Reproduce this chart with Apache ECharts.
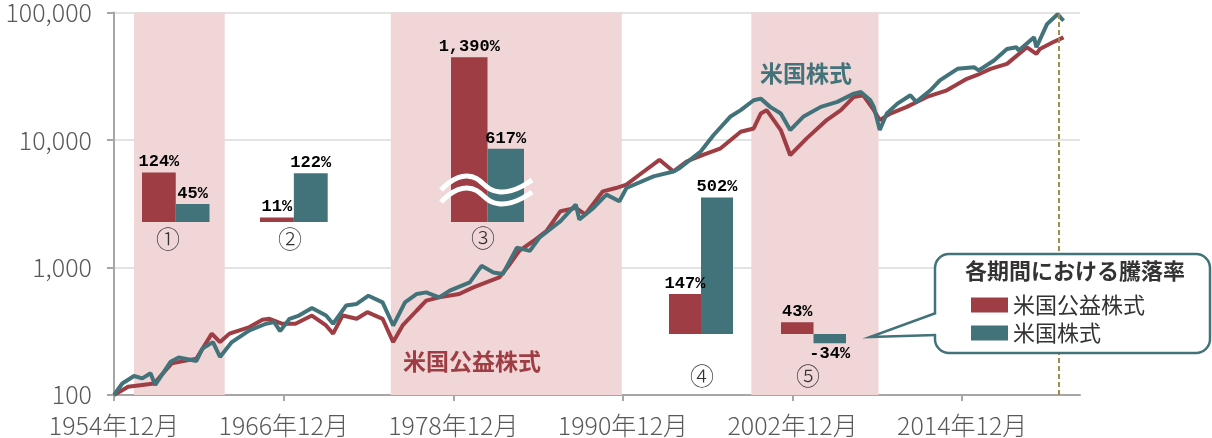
<!DOCTYPE html>
<html>
<head>
<meta charset="UTF-8">
<script src="https://cdn.jsdelivr.net/npm/echarts@6/dist/echarts.min.js"></script>
<style>
  html, body { margin: 0; padding: 0; background: #fff; }
  #main { width: 1212px; height: 438px; }
</style>
</head>
<body>
<div id="main"></div>
<script>
// 米国公益株式 (月末, 1954年12月=100)
var utilDates = ['1954-12','1955-12','1956-12','1957-10','1959-01','1960-10','1961-11','1962-06','1963-02','1964-07','1965-06','1965-12','1966-11','1967-10','1968-12','1969-12','1970-06','1971-02','1972-02','1972-11','1973-12','1974-09','1975-05','1976-05','1977-01','1977-12','1979-05','1980-05','1982-03','1982-12','1983-08','1984-08','1985-07','1986-07','1987-08','1988-04','1989-07','1990-06','1991-03','1992-02','1993-07','1994-07','1995-06','1996-08','1997-11','1999-04','2000-03','2000-09','2001-02','2001-08','2002-02','2002-10','2003-12','2005-05','2006-05','2007-04','2007-12','2008-09','2009-02','2009-11','2011-01','2012-06','2013-11','2015-04','2016-03','2016-12','2018-02','2019-07','2020-03','2020-06','2021-05','2022-02'];
var utilValues = [100,116,120,123,177,193,303,260,303,341,389,396,362,362,420,351,303,420,396,446,396,260,351,460,550,583,620,698,835,1062,1349,1614,1931,2764,2933,2606,3957,4200,4463,5340,6990,5666,6780,7645,8610,11610,12320,16130,17140,14330,11970,7600,10300,14330,17140,21760,22440,17140,14330,16130,18190,21760,24540,30220,33060,36160,39570,53370,47330,51780,58380,63870];

// 米国株式
var stockDates = ['1954-12','1955-07','1956-05','1956-12','1957-07','1957-11','1958-12','1959-07','1960-10','1961-03','1961-12','1962-06','1963-04','1964-07','1965-09','1966-04','1966-09','1967-05','1968-01','1968-12','1969-12','1970-06','1971-05','1972-02','1972-12','1973-12','1974-09','1975-07','1976-05','1977-01','1977-12','1978-09','1980-02','1980-12','1981-10','1982-06','1983-06','1984-05','1985-01','1986-07','1987-08','1987-11','1988-11','1989-10','1990-09','1991-03','1993-02','1994-07','1994-12','1996-06','1997-05','1998-07','1999-04','2000-03','2000-09','2001-05','2002-02','2002-10','2003-09','2004-12','2006-02','2007-04','2007-10','2008-06','2008-09','2009-02','2009-08','2010-05','2011-04','2011-09','2012-09','2013-05','2014-08','2015-10','2016-02','2017-03','2018-02','2018-10','2018-12','2020-01','2020-03','2020-12','2021-09','2022-02'];
var stockValues = [100,123,141,135,148,120,182,197,185,231,260,199,260,321,362,373,317,396,420,482,420,362,503,518,601,533,351,533,620,638,583,658,764,1031,914,888,1431,1349,1712,2310,3117,2382,2933,3729,3307,4200,5180,5666,6012,8111,10950,15200,17140,20510,21110,18190,16130,11970,15200,18190,19900,23090,23800,20510,18190,11970,16130,19300,22440,19900,24540,29370,36160,37280,35140,42040,51780,53370,50300,63870,53370,81090,97000,86170];

// 各期間の騰落率 (%)
var periodNames = ['①','②','③','④','⑤'];
var periodUtil = [124, 11, 1390, 147, 43];
var periodStock = [45, 122, 617, 502, -34];

// 網掛け期間と点線
var shadeRanges = [['1956-05','1962-10'], ['1974-07','1990-11'], ['2000-01','2009-01']];
var markDate = '2021-10';
var seriesNames = ['米国公益株式', '米国株式'];

var RED = '#9e3d44', TEAL = '#43737a', PINK = '#f0d6d7';
var FONT = "'Noto Sans CJK JP', 'Noto Sans', sans-serif";

function mi(s) {
  var p = s.split('-');
  return (+p[0] - 1954) * 12 + (+p[1] - 12);
}
function pairs(dates, vals) {
  return dates.map(function (d, i) { return [mi(d), vals[i]]; });
}

// inset bar frames: [left, top, width, height, min, max]
var insets = [
  [142, 162, 67.5, 60, 0, 150],
  [260, 162, 67.7, 60, 0, 150],
  [451, 56, 73, 166, 0, 1400],
  [669, 171, 64, 163, 0, 600],
  [781, 306.8, 65, 54.4, -100, 100]
];
var numPos = [[168, 239], [290, 239], [483, 238], [702, 376], [808, 376]];

var grids = [{ left: 114, right: 132, top: 10, bottom: 43 }];
var xAxes = [{
  type: 'value', min: 0, max: 820, interval: 144,
  axisLine: { onZero: false, lineStyle: { color: '#a6a6a6', width: 2 } },
  axisTick: { length: 6, lineStyle: { color: '#a6a6a6', width: 2 } },
  splitLine: { show: false },
  axisLabel: {
    formatter: function (v) { return (1954 + v / 12) + '年12月'; },
    fontSize: 25, fontWeight: 300, color: '#595959', margin: 18, fontFamily: FONT
  }
}];
var yAxes = [{
  type: 'log', logBase: 10, min: 100, max: 100000,
  axisLine: { show: true, lineStyle: { color: '#a6a6a6', width: 2 } },
  axisTick: { show: true, length: 7, lineStyle: { color: '#a6a6a6', width: 2 } },
  splitLine: { lineStyle: { color: '#e3e3e3', width: 2 } },
  axisLabel: {
    formatter: function (v) { return v.toLocaleString('en-US'); },
    fontSize: 25, fontWeight: 300, color: '#595959', margin: 22, fontFamily: FONT
  }
}];

var series = [
  {
    name: 'shade', type: 'line', data: pairs(utilDates, utilValues), z: 1,
    showSymbol: false, silent: true, lineStyle: { opacity: 0 },
    markArea: {
      silent: true, itemStyle: { color: PINK },
      data: shadeRanges.map(function (r) { return [{ xAxis: mi(r[0]) }, { xAxis: mi(r[1]) }]; })
    }
  },
  {
    name: seriesNames[0], type: 'line', data: pairs(utilDates, utilValues), z: 3,
    showSymbol: false, lineStyle: { width: 4, color: RED }, itemStyle: { color: RED }
  },
  {
    name: seriesNames[1], type: 'line', data: pairs(stockDates, stockValues), z: 4,
    showSymbol: false, lineStyle: { width: 4, color: TEAL }, itemStyle: { color: TEAL }
  },
  {
    name: 'mark', type: 'line', data: pairs(utilDates, utilValues), z: 5,
    showSymbol: false, silent: true, lineStyle: { opacity: 0 },
    markLine: {
      silent: true, symbol: 'none', label: { show: false },
      lineStyle: { color: '#a08c50', type: [5, 3], width: 2 },
      data: [{ xAxis: mi(markDate) }]
    }
  }
];

var graphics = [];
insets.forEach(function (b, i) {
  grids.push({ left: b[0], top: b[1], width: b[2], height: b[3] });
  xAxes.push({ type: 'category', gridIndex: i + 1, data: seriesNames, show: false });
  yAxes.push({ type: 'value', gridIndex: i + 1, min: b[4], max: b[5], show: false, splitLine: { show: false } });
  series.push({
    type: 'bar', xAxisIndex: i + 1, yAxisIndex: i + 1, barCategoryGap: '0%', z: 6,
    data: [
      { value: periodUtil[i], itemStyle: { color: RED } },
      { value: periodStock[i], itemStyle: { color: TEAL },
        label: periodStock[i] < 0 ? { position: 'bottom' } : undefined }
    ],
    label: {
      show: true, position: 'top', distance: 2,
      formatter: function (p) { return p.value.toLocaleString('en-US') + '%'; },
      fontFamily: "'Liberation Mono', monospace", fontWeight: 'bold', fontSize: 17, color: '#000'
    }
  });
  graphics.push({
    type: 'text', x: numPos[i][0], y: numPos[i][1], z: 100,
    style: { text: periodNames[i], fontSize: 24, fontWeight: 300, fontFamily: FONT, fill: '#333', align: 'center', verticalAlign: 'middle' }
  });
});

// 波線 (③ の省略記号)
[0, 12].forEach(function (dy) {
  graphics.push({
    type: 'polyline', z: 100,
    shape: { points: [[441, 190 + dy], [467, 176 + dy], [500, 192 + dy], [532, 180 + dy]], smooth: 0.5 },
    style: { stroke: '#fff', lineWidth: 5, fill: null }
  });
});

graphics.push(
  { type: 'text', x: 806, y: 73, z: 100,
    style: { text: '米国株式', fontSize: 23, fontWeight: 'bold', fontFamily: FONT, fill: TEAL, align: 'center', verticalAlign: 'middle' } },
  { type: 'text', x: 472, y: 361, z: 100,
    style: { text: '米国公益株式', fontSize: 23, fontWeight: 'bold', fontFamily: FONT, fill: RED, align: 'center', verticalAlign: 'middle' } },
  { type: 'rect', z: 100, shape: { x: 935, y: 254, width: 275, height: 99, r: 14 },
    style: { fill: '#fff', stroke: TEAL, lineWidth: 2.5 } },
  { type: 'rect', z: 101, shape: { x: 932, y: 314, width: 8, height: 20 }, style: { fill: '#fff' } },
  { type: 'polyline', z: 101, shape: { points: [[936, 313], [870, 337], [936, 335]] },
    style: { stroke: TEAL, lineWidth: 2.5, fill: null } },
  { type: 'text', x: 1075, y: 271, z: 101,
    style: { text: '各期間における騰落率', fontSize: 22, fontWeight: 'bold', fontFamily: FONT, fill: '#333', align: 'center', verticalAlign: 'middle' } }
);

var chart = echarts.init(document.getElementById('main'));
chart.setOption({
  animation: false,
  backgroundColor: '#fff',
  grid: grids,
  xAxis: xAxes,
  yAxis: yAxes,
  legend: {
    data: seriesNames, orient: 'vertical', left: 971, top: 294, padding: 0, z: 110,
    icon: 'rect', itemWidth: 37, itemHeight: 15, itemGap: 6, selectedMode: false,
    textStyle: { fontSize: 22, color: '#333', fontFamily: FONT }
  },
  series: series,
  graphic: { elements: graphics }
});
</script>
</body>
</html>
